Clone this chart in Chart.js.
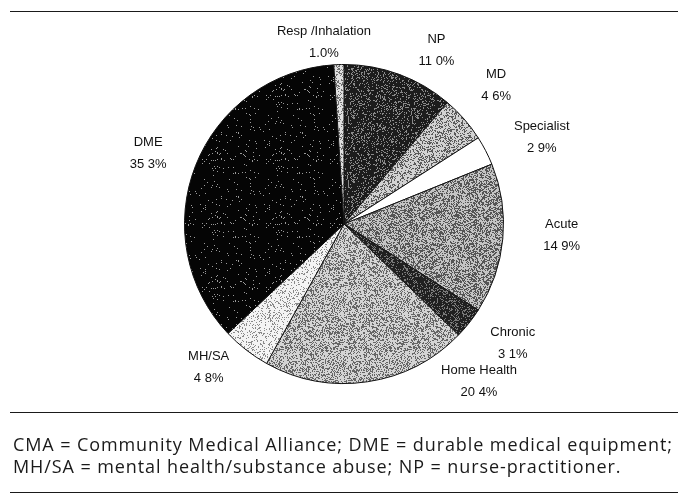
<!DOCTYPE html>
<html>
<head>
<meta charset="utf-8">
<script src="https://cdn.jsdelivr.net/npm/chart.js@4/dist/chart.umd.min.js"></script>
<style>
    html, body { margin: 0; padding: 0; background: #fff; }
    #wrap { position: relative; width: 688px; height: 496px; overflow: hidden; }
    #pie { position: absolute; left: 0; top: 0; }
    .rule { position: absolute; left: 10px; width: 668px; height: 0; border-top: 1.6px solid #1a1a1a; }
    .note { position: absolute; left: 13px; font-family: "Open Sans", "Lato", sans-serif; font-size: 18px; line-height: 1; color: #1a1a1a; white-space: nowrap; }
</style>
</head>
<body>
<div id="wrap">
    <canvas id="pie" width="688" height="496"></canvas>
    <div class="rule" style="top:11px"></div>
    <div class="rule" style="top:412px"></div>
    <div class="note" id="note1" style="top:435px">CMA = Community Medical Alliance; DME = durable medical equipment;</div>
    <div class="note" id="note2" style="top:457px">MH/SA = mental health/substance abuse; NP = nurse-practitioner.</div>
    <div class="rule" style="top:492px"></div>
</div>
<script>
"use strict";

// --- Data (clockwise from 12 o'clock) ---
const categories = ['NP', 'MD', 'Specialist', 'Acute', 'Chronic', 'Home Health', 'MH/SA', 'DME', 'Resp /Inhalation'];
const shares = [11.0, 4.6, 2.9, 14.9, 3.1, 20.4, 4.8, 35.3, 1.0];
const shareLabels = ['11 0%', '4 6%', '2 9%', '14 9%', '3 1%', '20 4%', '4 8%', '35 3%', '1.0%'];

// fills: [base grey, speck grey, speck share] - imitates the stippled print
const sliceTextures = [
    ['#1c1c1c', '#8a8a8a', 0.22],
    ['#d2d2d2', '#5a5a5a', 0.35],
    ['#ffffff', '#ffffff', 0],
    ['#c4c4c4', '#555555', 0.45],
    ['#202020', '#7a7a7a', 0.25],
    ['#d4d4d4', '#666666', 0.38],
    ['#f4f4f4', '#8a8a8a', 0.2],
    ['#050505', '#9a9a9a', 0.03],
    ['#e0e0e0', '#707070', 0.3]
];

// where each label pair sits: [degrees clockwise from top, distance from centre in px]
const labelSpots = [[28, 197], [47.6, 206], [66.3, 216], [92.9, 218], [125.4, 207], [139.3, 207], [223.4, 197], [289.7, 208], [353.7, 183]];

/** Small deterministic hash so the stipple looks the same every run. */
function hash(x, y, seed) {
    let h = (x * 374761393 + y * 668265263 + seed * 2147483647) | 0;
    h = (h ^ (h >>> 13)) * 1274126177 | 0;
    h = h ^ (h >>> 16);
    return (h >>> 0) / 4294967296;
}

/** Builds a canvas pattern of speckled grey. */
function makeStipple(ctx, base, speck, share, seed) {
    const size = 64;
    const tile = document.createElement('canvas');
    tile.width = size;
    tile.height = size;
    const tctx = tile.getContext('2d');
    tctx.fillStyle = base;
    tctx.fillRect(0, 0, size, size);
    if (share > 0) {
        tctx.fillStyle = speck;
        for (let y = 0; y < size; y++) {
            for (let x = 0; x < size; x++) {
                if (hash(x, y, seed) < share) tctx.fillRect(x, y, 1, 1);
            }
        }
    }
    return ctx.createPattern(tile, 'repeat');
}

/** Draws the two-line outside labels the way the original (Excel) figure places them. */
const outsideLabels = {
    id: 'outsideLabels',
    afterDatasetsDraw(chart) {
        const arc = chart.getDatasetMeta(0).data[0];
        if (!arc) return;
        const { ctx } = chart;
        ctx.save();
        ctx.fillStyle = '#111';
        ctx.font = '13px "Liberation Sans", Arial, sans-serif';
        ctx.textAlign = 'center';
        ctx.textBaseline = 'middle';
        categories.forEach((name, i) => {
            const [deg, dist] = labelSpots[i];
            const rad = deg * Math.PI / 180;
            const x = arc.x + Math.sin(rad) * dist;
            const y = arc.y - Math.cos(rad) * dist;
            ctx.fillText(name, x, y - 11);
            ctx.fillText(shareLabels[i], x, y + 11);
        });
        ctx.restore();
    }
};

const ctx = document.getElementById('pie').getContext('2d');
const sliceFills = sliceTextures.map(([base, speck, share], i) => makeStipple(ctx, base, speck, share, i + 1));

new Chart(ctx, {
    type: 'pie',
    data: {
        labels: categories,
        datasets: [{
            data: shares,
            backgroundColor: sliceFills,
            borderColor: '#111',
            borderWidth: 1
        }]
    },
    options: {
        responsive: false,
        animation: false,
        layout: { padding: { top: 64, bottom: 112, left: 184, right: 184 } },
        plugins: {
            legend: { display: false },
            tooltip: { enabled: false },
            title: { display: false }
        }
    },
    plugins: [outsideLabels]
});

// widen the footnote to the printed width (the original face is wider than what is installed)
const note1 = document.getElementById('note1');
const note2 = document.getElementById('note2');
const spacing = (660 - note1.getBoundingClientRect().width) / note1.textContent.length;
note1.style.letterSpacing = spacing + 'px';
note2.style.letterSpacing = spacing + 'px';
</script>
</body>
</html>
